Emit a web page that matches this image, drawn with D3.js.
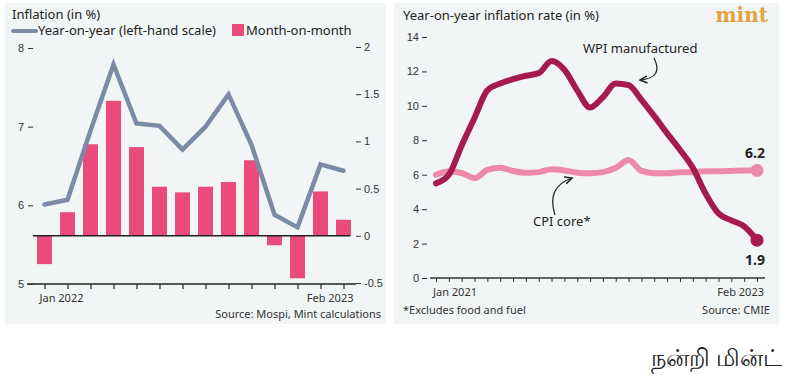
<!DOCTYPE html>
<html>
<head>
<meta charset="utf-8">
<script src="https://cdn.jsdelivr.net/npm/d3@7"></script>
<style>
  body { margin: 0; background: #fff; }
  svg { display: block; font-family: "Noto Sans", "Open Sans", sans-serif; }
  .tick text { font-size: 11px; fill: #333; }
  .tick line { stroke: #333; }
</style>
</head>
<body>
<svg width="800" height="382"></svg>
<script>
// ---- left chart data: CPI inflation, Jan 2022 - Feb 2023 ----
var monthsL = ["Jan 2022","Feb","Mar","Apr","May","Jun","Jul","Aug","Sep","Oct","Nov","Dec","Jan 2023","Feb 2023"];
var yoy = [6.01, 6.07, 6.95, 7.79, 7.04, 7.01, 6.71, 7.0, 7.41, 6.77, 5.88, 5.72, 6.52, 6.44];
var mom = [-0.30, 0.25, 0.97, 1.43, 0.94, 0.52, 0.46, 0.52, 0.57, 0.80, -0.10, -0.45, 0.47, 0.17];
var ticksLeft = [5, 6, 7, 8];
var ticksRight = [-0.5, 0, 0.5, 1, 1.5, 2];

// ---- right chart data: Jan 2021 - Feb 2023 ----
var monthsR = d3.range(26); // month index from Jan 2021
var wpi = [5.5, 6.0, 7.7, 9.3, 10.9, 11.3, 11.55, 11.75, 11.9, 12.6, 12.1, 10.9,
           9.9, 10.5, 11.3, 11.2, 10.35, 9.4, 8.4, 7.45, 6.4, 4.9, 3.75, 3.35, 3.0, 2.2];
var cpiCore = [6.0, 6.18, 6.1, 5.8, 6.28, 6.4, 6.22, 6.12, 6.15, 6.32, 6.25, 6.12,
               6.09, 6.15, 6.4, 6.85, 6.22, 6.09, 6.09, 6.15, 6.15, 6.2, 6.2, 6.22, 6.24, 6.25];
var ticksR = [0, 2, 4, 6, 8, 10, 12, 14];

var svg = d3.select("svg");

// panels
svg.append("rect").attr("x", 5).attr("y", 3).attr("width", 381).attr("height", 321).attr("fill", "#f2f5f5");
svg.append("rect").attr("x", 394).attr("y", 3).attr("width", 385).attr("height", 321).attr("fill", "#f2f5f5");

// ================= LEFT CHART =================
var xL = d3.scalePoint().domain(monthsL).range([44.5, 343.5]);
var yL = d3.scaleLinear().domain([5, 8]).range([284, 48]);
var yR = d3.scaleLinear().domain([-0.5, 2]).range([283, 47]);

var left = svg.append("g");

left.append("text").attr("x", 12).attr("y", 19).attr("font-size", 13).attr("fill", "#222").text("Inflation (in %)");
left.append("line").attr("x1", 13).attr("x2", 36).attr("y1", 31).attr("y2", 31)
    .attr("stroke", "#7b8aa5").attr("stroke-width", 4).attr("stroke-linecap", "round");
left.append("text").attr("x", 38).attr("y", 35).attr("font-size", 13).attr("fill", "#222").text("Year-on-year (left-hand scale)");
left.append("rect").attr("x", 232).attr("y", 24).attr("width", 12).attr("height", 12).attr("fill", "#ea4a7c");
left.append("text").attr("x", 246).attr("y", 35).attr("font-size", 13).attr("fill", "#222").text("Month-on-month");

// bars
left.selectAll(".bar").data(mom).enter().append("rect")
    .attr("class", "bar")
    .attr("x", function(d, i) { return xL(monthsL[i]) - 7.5; })
    .attr("width", 15)
    .attr("y", function(d) { return yR(Math.max(0, d)); })
    .attr("height", function(d) { return Math.abs(yR(d) - yR(0)); })
    .attr("fill", "#ea4a7c");

// zero line + bottom line
left.append("line").attr("x1", 33).attr("x2", 350).attr("y1", yR(0)).attr("y2", yR(0)).attr("stroke", "#222").attr("stroke-width", 1.5);
left.append("line").attr("x1", 27).attr("x2", 356).attr("y1", yL(5)).attr("y2", yL(5)).attr("stroke", "#222").attr("stroke-width", 1.5);

// yoy line
var lineL = d3.line().x(function(d, i) { return xL(monthsL[i]); }).y(function(d) { return yL(d); });
left.append("path").datum(yoy).attr("d", lineL)
    .attr("fill", "none").attr("stroke", "#7b8aa5").attr("stroke-width", 4.5)
    .attr("stroke-linecap", "round");

// axes
left.append("g").attr("transform", "translate(33,0)")
    .call(d3.axisLeft(yL).tickValues(ticksLeft).tickSize(5).tickPadding(4).tickFormat(d3.format("d")))
    .call(function(g) { g.select(".domain").remove(); });
left.append("g").attr("transform", "translate(356,0)")
    .call(d3.axisRight(yR).tickValues(ticksRight).tickSize(5).tickPadding(3).tickFormat(function(d) { return String(d); }))
    .call(function(g) { g.select(".domain").remove(); });
left.append("g").attr("transform", "translate(0," + yL(5) + ")")
    .call(d3.axisBottom(xL).tickSize(5).tickFormat(""))
    .call(function(g) { g.select(".domain").remove(); g.selectAll("line").attr("stroke-width", 1.3); });

left.append("text").attr("x", xL(monthsL[0]) - 5).attr("y", 302).attr("font-size", 11).attr("fill", "#333").text("Jan 2022");
left.append("text").attr("x", xL(monthsL[13]) + 10).attr("y", 302).attr("font-size", 11).attr("fill", "#333")
    .attr("text-anchor", "end").text("Feb 2023");
left.append("text").attr("x", 381).attr("y", 318).attr("font-size", 11).attr("fill", "#333")
    .attr("text-anchor", "end").text("Source: Mospi, Mint calculations");

// ================= RIGHT CHART =================
var xR = d3.scaleLinear().domain([0, 25]).range([436, 757]);
var yRt = d3.scaleLinear().domain([0, 14]).range([278, 37]);

var right = svg.append("g");

right.append("text").attr("x", 403).attr("y", 20).attr("font-size", 13).attr("fill", "#222").text("Year-on-year inflation rate (in %)");
right.append("text").attr("x", 768).attr("y", 22).attr("text-anchor", "end")
    .attr("font-family", "DejaVu Serif, serif").attr("font-weight", "bold").attr("font-size", 20)
    .attr("fill", "#e4a23c").text("mint");

right.append("g").attr("transform", "translate(427,0)")
    .call(d3.axisLeft(yRt).tickValues(ticksR).tickSize(5).tickPadding(3))
    .call(function(g) { g.select(".domain").remove(); });

right.append("line").attr("x1", 430).attr("x2", 765).attr("y1", yRt(0)).attr("y2", yRt(0)).attr("stroke", "#333").attr("stroke-width", 1.3);
right.append("g").attr("transform", "translate(0," + yRt(0) + ")")
    .call(d3.axisBottom(xR).tickValues(monthsR).tickSize(4).tickFormat(""))
    .call(function(g) { g.select(".domain").remove(); });

right.append("text").attr("x", xR(0) - 3).attr("y", 296).attr("font-size", 11).attr("fill", "#333").text("Jan 2021");
right.append("text").attr("x", xR(25) + 7).attr("y", 296).attr("font-size", 11).attr("fill", "#333").attr("text-anchor", "end").text("Feb 2023");
right.append("text").attr("x", 403).attr("y", 314).attr("font-size", 11).attr("fill", "#333").text("*Excludes food and fuel");
right.append("text").attr("x", 770).attr("y", 314).attr("font-size", 11).attr("fill", "#333").attr("text-anchor", "end").text("Source: CMIE");

var lineR = d3.line().curve(d3.curveMonotoneX)
    .x(function(d, i) { return xR(monthsR[i]); }).y(function(d) { return yRt(d); });

right.append("path").datum(cpiCore).attr("d", lineR)
    .attr("fill", "none").attr("stroke", "#ee8aa9").attr("stroke-width", 6).attr("stroke-linecap", "round");
right.append("path").datum(wpi).attr("d", lineR)
    .attr("fill", "none").attr("stroke", "#a51a4f").attr("stroke-width", 6).attr("stroke-linecap", "round");

right.append("circle").attr("cx", xR(25)).attr("cy", yRt(cpiCore[25])).attr("r", 6.5).attr("fill", "#ee8aa9");
right.append("circle").attr("cx", xR(25)).attr("cy", yRt(wpi[25])).attr("r", 6.5).attr("fill", "#a51a4f");

right.append("text").attr("x", 765).attr("y", 158).attr("text-anchor", "end").attr("font-size", 14)
    .attr("font-weight", "bold").attr("fill", "#222").text("6.2");
right.append("text").attr("x", 765).attr("y", 265).attr("text-anchor", "end").attr("font-size", 14)
    .attr("font-weight", "bold").attr("fill", "#222").text("1.9");

// annotations
svg.append("defs").append("marker").attr("id", "arr")
    .attr("viewBox", "0 0 8 8").attr("refX", 7).attr("refY", 4)
    .attr("markerWidth", 8).attr("markerHeight", 8).attr("orient", "auto")
    .append("path").attr("d", "M1,1 L7,4 L1,7").attr("fill", "none").attr("stroke", "#222").attr("stroke-width", 1.3);

right.append("text").attr("x", 583).attr("y", 53).attr("font-size", 13).attr("fill", "#222").text("WPI manufactured");
right.append("path").attr("d", "M654,58 Q664,78 640,80").attr("fill", "none")
    .attr("stroke", "#222").attr("stroke-width", 1.2).attr("marker-end", "url(#arr)");

right.append("text").attr("x", 533).attr("y", 226).attr("font-size", 13).attr("fill", "#222").text("CPI core*");
right.append("path").attr("d", "M555,215 Q546,187 572,178").attr("fill", "none")
    .attr("stroke", "#222").attr("stroke-width", 1.2).attr("marker-end", "url(#arr)");

// footer
svg.append("text").attr("x", 782).attr("y", 366).attr("text-anchor", "end").attr("font-size", 24)
    .attr("fill", "#222").text("நன்றி மின்ட்");
</script>
</body>
</html>
